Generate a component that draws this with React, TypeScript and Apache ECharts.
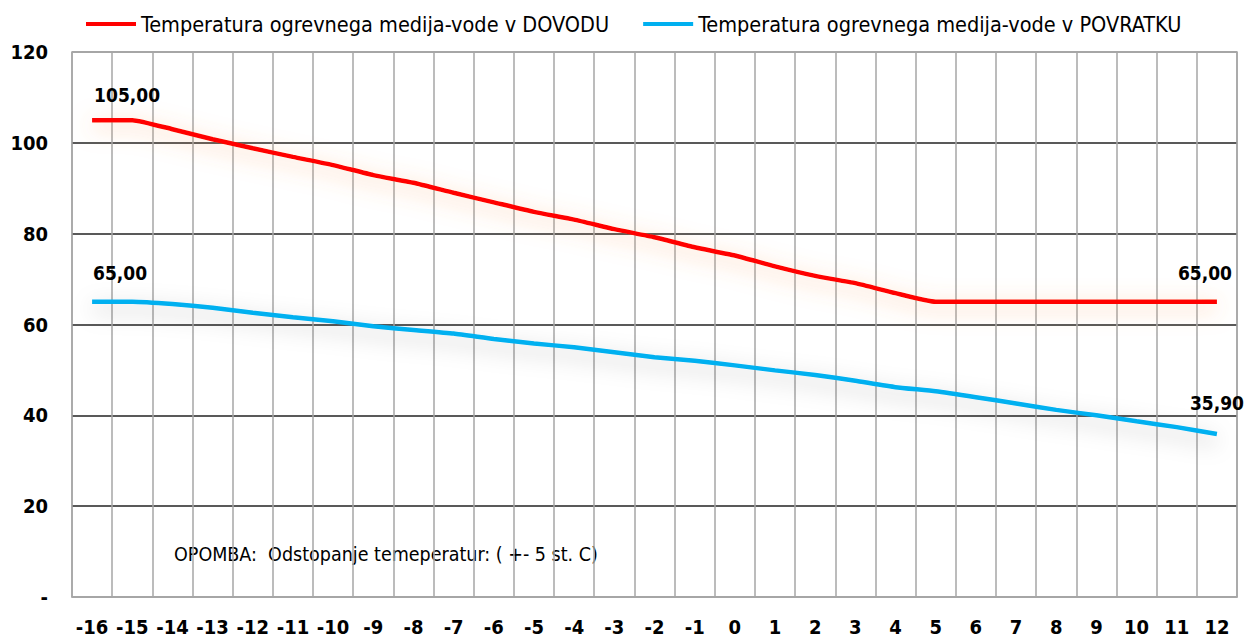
import React, { useEffect, useRef } from "react";
import * as echarts from "echarts";

const categories = ["-16","-15","-14","-13","-12","-11","-10","-9","-8","-7","-6","-5","-4","-3","-2","-1","0","1","2","3","4","5","6","7","8","9","10","11","12"];
const supplyName = "Temperatura ogrevnega medija-vode v DOVODU";
const returnName = "Temperatura ogrevnega medija-vode v POVRATKU";
const supplyValues = [105, 105, 103, 100.8, 98.8, 96.9, 95.1, 92.9, 91.2, 89.0, 86.9, 84.8, 83.1, 81.0, 79.2, 77.0, 75.2, 72.8, 70.7, 69.1, 66.9, 65, 65, 65, 65, 65, 65, 65, 65];
const returnValues = [65, 65, 64.5, 63.7, 62.6, 61.6, 60.7, 59.6, 58.8, 58.0, 56.8, 55.8, 55.0, 53.9, 52.8, 52.0, 51.0, 49.9, 48.9, 47.6, 46.2, 45.3, 44.0, 42.6, 41.2, 40.0, 38.7, 37.4, 35.9];
const yTicks = [0, 20, 40, 60, 80, 100, 120];
const noteText = "OPOMBA:  Odstopanje temeperatur: ( +- 5 st. C)";

const FONT = "'DejaVu Sans Condensed', 'Noto Sans', sans-serif";

const fmt = (v: number) => v.toFixed(2).replace(".", ",");

function labeled(values: number[], labels: { [k: number]: number[] }) {
  return values.map((v, i) =>
    labels[i]
      ? {
          value: v,
          label: {
            show: true,
            position: "top",
            offset: labels[i],
            formatter: () => fmt(v),
            fontFamily: FONT,
            fontWeight: "bold",
            fontSize: 19,
            color: "#000",
          },
        }
      : v
  );
}

export default function App() {
  const ref = useRef<HTMLDivElement>(null);
  useEffect(() => {
    document.body.style.margin = "0";
    const chart = echarts.init(ref.current!, null, { renderer: "svg" });
    chart.setOption({
      animation: false,
      backgroundColor: "#fff",
      textStyle: { fontFamily: FONT },
      legend: {
        top: 13,
        left: 86,
        padding: 0,
        itemWidth: 50,
        itemHeight: 4,
        itemGap: 34,
        icon: "rect",
        textStyle: { fontFamily: FONT, fontSize: 21.5, color: "#000" },
        data: [supplyName, returnName],
      },
      grid: {
        left: 72,
        right: 10,
        top: 52,
        bottom: 42,
        show: true,
        borderColor: "#a6a6a6",
        borderWidth: 1.5,
      },
      xAxis: {
        type: "category",
        data: categories,
        boundaryGap: true,
        axisLine: { show: true, lineStyle: { color: "#a6a6a6", width: 1.5 } },
        axisTick: { show: false },
        splitLine: { show: true, lineStyle: { color: "#a6a6a6", width: 1.5 } },
        axisLabel: {
          margin: 20,
          fontFamily: FONT,
          fontWeight: "bold",
          fontSize: 20,
          color: "#000",
          interval: 0,
        },
      },
      yAxis: {
        type: "value",
        min: yTicks[0],
        max: yTicks[yTicks.length - 1],
        interval: 20,
        axisLine: { show: false },
        axisTick: { show: false },
        splitLine: {
          show: true,
          lineStyle: {
            color: ["#a6a6a6", "#595959", "#595959", "#595959", "#595959", "#595959", "#a6a6a6"],
            width: 2,
          },
        },
        axisLabel: {
          margin: 24,
          fontFamily: FONT,
          fontWeight: "bold",
          fontSize: 20,
          color: "#000",
          formatter: (v: number) => (v === 0 ? "-" : String(v)),
        },
      },
      graphic: [
        {
          type: "text",
          left: 174,
          top: 544,
          style: { text: noteText, fontFamily: FONT, fontSize: 19.5, fill: "#000" },
        },
      ],
      series: [
        {
          name: supplyName,
          type: "line",
          data: labeled(supplyValues, { 0: [35, -11], 28: [-12, -14] }),
          smooth: 0.15,
          symbol: "circle",
          symbolSize: 0,
          showSymbol: true,
          color: "#ff0000",
          lineStyle: {
            color: "#ff0000",
            width: 4.5,
            shadowColor: "rgba(248,150,80,0.6)",
            shadowBlur: 22,
            shadowOffsetY: 5,
          },
          z: 3,
        },
        {
          name: returnName,
          type: "line",
          data: labeled(returnValues, { 0: [28, -14], 28: [0, -16] }),
          smooth: 0.15,
          symbol: "circle",
          symbolSize: 0,
          showSymbol: true,
          color: "#00b0f0",
          lineStyle: {
            color: "#00b0f0",
            width: 4.5,
            shadowColor: "rgba(0,0,0,0.28)",
            shadowBlur: 22,
            shadowOffsetY: 7,
          },
          z: 3,
        },
      ],
    });
    return () => chart.dispose();
  }, []);
  return <div ref={ref} style={{ width: 1247, height: 639 }} />;
}
